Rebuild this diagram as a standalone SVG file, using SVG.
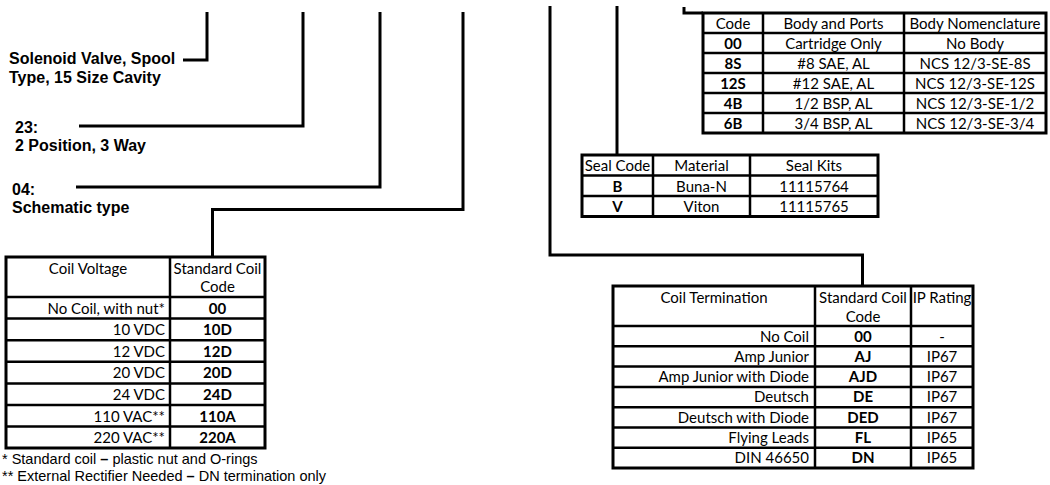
<svg xmlns="http://www.w3.org/2000/svg" width="1050" height="485" viewBox="0 0 1050 485">
<style>
.lbl{font-family:"Liberation Sans",Arial,sans-serif;font-weight:bold;font-size:16px;fill:#000}
.fn{font-family:"Liberation Sans",Arial,sans-serif;font-size:14.5px;fill:#000}
.t{font-family:Lato,"Open Sans",sans-serif;font-size:15px;fill:#000}
.c{text-anchor:middle}
.r{text-anchor:end}
.b{font-weight:bold}
.outer{fill:#fff;stroke:#000;stroke-width:3}
.grid{stroke:#000;stroke-width:2.5;fill:none}
.conn{stroke:#000;stroke-width:3;fill:none;stroke-linejoin:miter;stroke-linecap:butt}
</style>
<rect width="1050" height="485" fill="#fff"/>
<g id="connectors">
<path class="conn" d="M207,12 V60 H183"/>
<path class="conn" d="M303,12 V126 H79"/>
<path class="conn" d="M380,12 V187 H76"/>
<path class="conn" d="M463,12 V209.5 H212.5 V257"/>
<path class="conn" d="M550,6 V255 H862.5 V286"/>
<path class="conn" d="M617,6 V155"/>
<path class="conn" d="M684,7 V13 H703"/>
</g>
<g id="label-solenoid">
<text class="lbl" x="9" y="64">Solenoid Valve, Spool</text>
<text class="lbl" x="9" y="83">Type, 15 Size Cavity</text>
</g>
<g id="label-23">
<text class="lbl" x="15" y="133">23:</text>
<text class="lbl" x="15" y="151">2 Position, 3 Way</text>
</g>
<g id="label-04">
<text class="lbl" x="12" y="194.5">04:</text>
<text class="lbl" x="12" y="213">Schematic type</text>
</g>
<g id="table-body">
<rect class="outer" x="703" y="13" width="343" height="120"/>
<path class="grid" d="M763,13 V133 M904,13 V133 M703,33 H1046 M703,53 H1046 M703,73 H1046 M703,93 H1046 M703,113 H1046"/>
<text class="t c" x="733" y="28.5">Code</text>
<text class="t c" x="833.5" y="28.5">Body and Ports</text>
<text class="t c" x="975" y="28.5">Body Nomenclature</text>
<text class="t c b" x="733" y="48.5">00</text>
<text class="t c" x="833.5" y="48.5">Cartridge Only</text>
<text class="t c" x="975" y="48.5">No Body</text>
<text class="t c b" x="733" y="68.5">8S</text>
<text class="t c" x="833.5" y="68.5">#8 SAE, AL</text>
<text class="t c" x="975" y="68.5">NCS 12/3-SE-8S</text>
<text class="t c b" x="733" y="88.5">12S</text>
<text class="t c" x="833.5" y="88.5">#12 SAE, AL</text>
<text class="t c" x="975" y="88.5">NCS 12/3-SE-12S</text>
<text class="t c b" x="733" y="108.5">4B</text>
<text class="t c" x="833.5" y="108.5">1/2 BSP, AL</text>
<text class="t c" x="975" y="108.5">NCS 12/3-SE-1/2</text>
<text class="t c b" x="733" y="128.5">6B</text>
<text class="t c" x="833.5" y="128.5">3/4 BSP, AL</text>
<text class="t c" x="975" y="128.5">NCS 12/3-SE-3/4</text>
</g>
<g id="table-seal">
<rect class="outer" x="582" y="155" width="296" height="61.5"/>
<path class="grid" d="M653,155 V216.5 M750,155 V216.5 M582,175.5 H878 M582,196 H878"/>
<text class="t c" x="617.5" y="171">Seal Code</text>
<text class="t c" x="701.5" y="171">Material</text>
<text class="t c" x="814" y="171">Seal Kits</text>
<text class="t c b" x="617.5" y="191.5">B</text>
<text class="t c" x="701.5" y="191.5">Buna-N</text>
<text class="t c" x="814" y="191.5">11115764</text>
<text class="t c b" x="617.5" y="212">V</text>
<text class="t c" x="701.5" y="212">Viton</text>
<text class="t c" x="814" y="212">11115765</text>
</g>
<g id="table-coil-voltage">
<rect class="outer" x="6" y="257" width="259" height="191"/>
<path class="grid" d="M170,257 V448 M6,297 H265 M6,318.6 H265 M6,340.2 H265 M6,361.8 H265 M6,383.4 H265 M6,405 H265 M6,426.6 H265"/>
<text class="t c" x="88" y="274">Coil Voltage</text>
<text class="t c" x="217.5" y="274">Standard Coil</text>
<text class="t c" x="217.5" y="292">Code</text>
<text class="t r" x="165" y="313.5">No Coil, with nut*</text>
<text class="t c b" x="217.5" y="313.5">00</text>
<text class="t r" x="165" y="335.1">10 VDC</text>
<text class="t c b" x="217.5" y="335.1">10D</text>
<text class="t r" x="165" y="356.7">12 VDC</text>
<text class="t c b" x="217.5" y="356.7">12D</text>
<text class="t r" x="165" y="378.3">20 VDC</text>
<text class="t c b" x="217.5" y="378.3">20D</text>
<text class="t r" x="165" y="399.9">24 VDC</text>
<text class="t c b" x="217.5" y="399.9">24D</text>
<text class="t r" x="165" y="421.5">110 VAC**</text>
<text class="t c b" x="217.5" y="421.5">110A</text>
<text class="t r" x="165" y="443.1">220 VAC**</text>
<text class="t c b" x="217.5" y="443.1">220A</text>
</g>
<g id="footnotes">
<text class="fn" x="2" y="464">* Standard coil <tspan font-weight="bold">–</tspan> plastic nut and O-rings</text>
<text class="fn" x="2" y="481">** External Rectifier Needed <tspan font-weight="bold">–</tspan> DN termination only</text>
</g>
<g id="table-coil-termination">
<rect class="outer" x="613" y="286" width="360" height="182"/>
<path class="grid" d="M815,286 V468 M911,286 V468 M613,326 H973 M613,346.3 H973 M613,366.6 H973 M613,386.9 H973 M613,407.2 H973 M613,427.5 H973 M613,447.8 H973"/>
<text class="t c" x="714" y="303">Coil Termination</text>
<text class="t c" x="863" y="303">Standard Coil</text>
<text class="t c" x="863" y="322">Code</text>
<text class="t c" x="942" y="303">IP Rating</text>
<text class="t r" x="809" y="341.5">No Coil</text>
<text class="t c b" x="863" y="341.5">00</text>
<text class="t c" x="942" y="341.5">-</text>
<text class="t r" x="809" y="361.8">Amp Junior</text>
<text class="t c b" x="863" y="361.8">AJ</text>
<text class="t c" x="942" y="361.8">IP67</text>
<text class="t r" x="809" y="382.1">Amp Junior with Diode</text>
<text class="t c b" x="863" y="382.1">AJD</text>
<text class="t c" x="942" y="382.1">IP67</text>
<text class="t r" x="809" y="402.4">Deutsch</text>
<text class="t c b" x="863" y="402.4">DE</text>
<text class="t c" x="942" y="402.4">IP67</text>
<text class="t r" x="809" y="422.7">Deutsch with Diode</text>
<text class="t c b" x="863" y="422.7">DED</text>
<text class="t c" x="942" y="422.7">IP67</text>
<text class="t r" x="809" y="443">Flying Leads</text>
<text class="t c b" x="863" y="443">FL</text>
<text class="t c" x="942" y="443">IP65</text>
<text class="t r" x="809" y="463.3">DIN 46650</text>
<text class="t c b" x="863" y="463.3">DN</text>
<text class="t c" x="942" y="463.3">IP65</text>
</g>
</svg>
